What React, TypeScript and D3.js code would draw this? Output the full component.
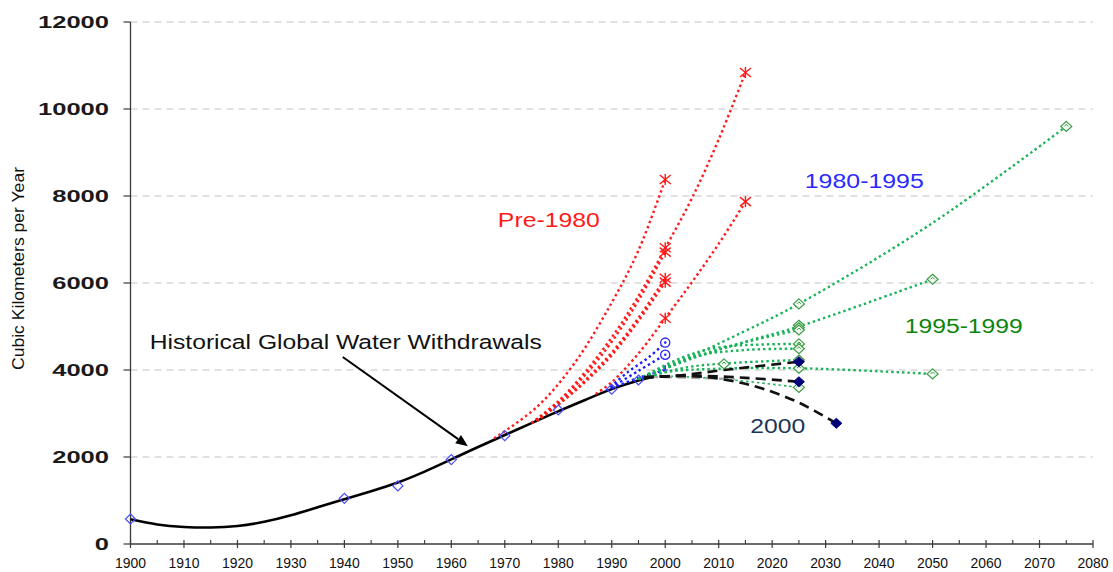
import React from 'react';
import * as d3 from 'd3';

const W = 1113;
const H = 572;

// axis ticks
const xTickYears = d3.range(1900, 2081, 10);
const xMinorYears = d3.range(1905, 2080, 10);
const yTickValues = [0, 2000, 4000, 6000, 8000, 10000, 12000];

// historical fitted curve
const histYears = [1900, 1905, 1910, 1915, 1920, 1925, 1930, 1935, 1940, 1945, 1950, 1955, 1960, 1965, 1970, 1975, 1980, 1985, 1990, 1995, 1998];
const histValues = [568, 450, 392, 380, 415, 510, 660, 845, 1030, 1215, 1415, 1665, 1945, 2230, 2505, 2780, 3050, 3310, 3560, 3760, 3850];

// historical observations
const obsYears = [1900, 1940, 1950, 1960, 1970, 1980, 1990, 1995];
const obsValues = [575, 1050, 1335, 1940, 2490, 3080, 3560, 3770];

type P = [number, number];

// Pre-1980 projections
const pre1980Lines: P[][] = [
  [[1968, 2430], [1976, 3150], [1983, 4150], [1990, 5550], [1995, 6750], [2000, 8380]],
  [[1975, 2780], [1980, 3280], [1985, 3950], [1990, 4750], [1995, 5700], [2000, 6800], [2005, 7950], [2010, 9300], [2015, 10840]],
  [[1975, 2780], [1980, 3260], [1985, 3880], [1990, 4650], [1995, 5600], [2000, 6710]],
  [[1976, 2830], [1980, 3220], [1985, 3760], [1990, 4400], [1995, 5200], [2000, 6110]],
  [[1976, 2830], [1980, 3200], [1985, 3720], [1990, 4340], [1995, 5130], [2000, 6020]],
  [[1987, 3450], [1990, 3720], [1995, 4380], [2000, 5190], [2005, 6020], [2010, 6900], [2015, 7870]],
];
const pre1980Marks: P[] = [
  [2000, 8380], [2000, 6810], [2000, 6710], [2000, 6110], [2000, 6020], [2000, 5190], [2015, 10840], [2015, 7870],
];

// 1980-1995 projections
const lines1980s: P[][] = [
  [[1989, 3530], [1993, 3950], [1997, 4300], [2000, 4630]],
  [[1989, 3530], [1995, 3980], [2000, 4350]],
  [[1990, 3580], [1995, 3820], [2000, 4000]],
];
const marks1980s: P[] = [[2000, 4630], [2000, 4350]];
const smallMarks1980s: P[] = [[2000, 4000]];

// 1995-1999 projections
const lines1995s: P[][] = [
  [[1995, 3790], [2005, 4320], [2015, 4900], [2025, 5520], [2050, 7380], [2075, 9600]],
  [[1995, 3790], [2005, 4260], [2015, 4650], [2025, 5000], [2050, 6085]],
  [[1995, 3790], [2005, 4280], [2015, 4640], [2025, 4920]],
  [[1995, 3790], [2003, 4280], [2010, 4520], [2025, 4600]],
  [[1995, 3790], [2005, 4300], [2015, 4460], [2025, 4490]],
  [[1995, 3790], [2004, 4060], [2011, 4150], [2025, 4230]],
  [[1995, 3790], [2000, 3950], [2010, 4030], [2025, 4040], [2050, 3910]],
  [[1998, 3870], [2010, 3800], [2025, 3600]],
];
const marks1995s: P[] = [
  [2025, 5520], [2075, 9600], [2025, 5030], [2025, 4970], [2025, 4920], [2050, 6085],
  [2025, 4600], [2025, 4490], [2025, 4230], [2011, 4140], [2025, 4040], [2050, 3910], [2025, 3600],
];

// 2000 projections
const lines2000: P[][] = [
  [[1996, 3830], [2003, 3880], [2011, 4000], [2025, 4190]],
  [[1996, 3830], [2005, 3870], [2015, 3820], [2025, 3730]],
  [[1996, 3830], [2005, 3860], [2012, 3760], [2018, 3580], [2025, 3250], [2032, 2775]],
];
const grayLine2000: P[] = [[1997, 3840], [2005, 3820], [2013, 3790]];
const marks2000: P[] = [[2025, 4190], [2025, 3730], [2032, 2775]];

// annotations (data units)
const arrowFrom: P = [1939.7, 4300];
const arrowTo: P = [1963.1, 2250];
const labelPre1980: P = [1968.7, 7294];
const label1980s: P = [2026.1, 8177];
const label1995s: P = [2044.8, 4844];
const label2000: P = [2015.9, 2552];
const labelHist: P = [1903.6, 4476];

const FONT = "'Liberation Sans', Arial, sans-serif";

export default function App() {
  const x = d3.scaleLinear().domain([1900, 2080]).range([130.5, 1093]);
  const y = d3.scaleLinear().domain([0, 12000]).range([544, 22]);
  const line = d3
    .line<P>()
    .x((d) => x(d[0]))
    .y((d) => y(d[1]))
    .curve(d3.curveCatmullRom.alpha(0.5));
  const histLine = d3
    .line<P>()
    .x((d) => x(d[0]))
    .y((d) => y(d[1]))
    .curve(d3.curveNatural);

  const histPts: P[] = histYears.map((yr, i) => [yr, histValues[i]]);

  const diamond = (w: number, h: number) => `M0,${-h}L${w},0L0,${h}L${-w},0Z`;

  const ax0 = x(1900);
  const ay0 = y(0);

  // arrow geometry
  const ax1 = x(arrowFrom[0]), ay1 = y(arrowFrom[1]);
  const ax2 = x(arrowTo[0]), ay2 = y(arrowTo[1]);
  const ang = Math.atan2(ay2 - ay1, ax2 - ax1);
  const ah = 12, aw = 5;
  const bx = ax2 - ah * Math.cos(ang), by = ay2 - ah * Math.sin(ang);
  const arrowHead = `M${ax2},${ay2}L${bx + aw * Math.sin(ang)},${by - aw * Math.cos(ang)}L${bx - aw * Math.sin(ang)},${by + aw * Math.cos(ang)}Z`;

  const dot = '2.4 3';

  return (
    <svg width={W} height={H} style={{ position: 'absolute', left: 0, top: 0, background: '#fff' }} fontFamily={FONT}>
      <rect x={0} y={0} width={W} height={H} fill="#fff" />
      {/* gridlines */}
      {yTickValues.filter((v) => v > 0).map((v) => (
        <line key={'g' + v} x1={ax0} x2={x(2080)} y1={y(v)} y2={y(v)} stroke="#c4c4c4" strokeWidth={1} strokeDasharray="7 5" />
      ))}

      {/* axes */}
      <line x1={ax0} x2={ax0} y1={y(12000)} y2={ay0} stroke="#3a3a3a" strokeWidth={1.3} />
      <line x1={ax0} x2={x(2080)} y1={ay0} y2={ay0} stroke="#3a3a3a" strokeWidth={1.3} />
      {yTickValues.map((v) => (
        <g key={'yt' + v}>
          <line x1={ax0 - 7} x2={ax0} y1={y(v)} y2={y(v)} stroke="#3a3a3a" strokeWidth={1.2} />
          <text
            x={109}
            y={y(v) + 6}
            textAnchor="end"
            fontSize={17}
            fontWeight="bold"
            fill="#1a1a1a"
            textLength={String(v).length * 14.2}
            lengthAdjust="spacingAndGlyphs"
          >
            {v}
          </text>
        </g>
      ))}
      {xTickYears.map((yr) => (
        <g key={'xt' + yr}>
          <line x1={x(yr)} x2={x(yr)} y1={ay0 - 4} y2={ay0 + 4} stroke="#3a3a3a" strokeWidth={1.2} />
          <text x={x(yr)} y={568} textAnchor="middle" fontSize={14.5} fill="#111" textLength={31} lengthAdjust="spacingAndGlyphs">
            {yr}
          </text>
        </g>
      ))}
      {xMinorYears.map((yr) => (
        <line key={'xm' + yr} x1={x(yr)} x2={x(yr)} y1={ay0 - 4} y2={ay0} stroke="#3a3a3a" strokeWidth={1.1} />
      ))}

      <text
        transform={`translate(24,268.5) rotate(-90)`}
        textAnchor="middle"
        fontSize={17}
        fill="#111"
        textLength={203}
        lengthAdjust="spacingAndGlyphs"
      >
        Cubic Kilometers per Year
      </text>

      {/* historical curve */}
      <path d={histLine(histPts) || ''} fill="none" stroke="#000" strokeWidth={2.6} />

      {/* pre-1980 */}
      {pre1980Lines.map((l, i) => (
        <path key={'r' + i} d={line(l) || ''} fill="none" stroke="#ff1a1a" strokeWidth={2.4} strokeDasharray={dot} />
      ))}

      {/* 1980-1995 */}
      {lines1980s.map((l, i) => (
        <path key={'b' + i} d={line(l) || ''} fill="none" stroke="#1a1aff" strokeWidth={2.4} strokeDasharray={dot} />
      ))}

      {/* 1995-1999 */}
      {lines1995s.map((l, i) => (
        <path
          key={'gr' + i}
          d={line(l) || ''}
          fill="none"
          stroke="#19b35a"
          strokeWidth={i === 7 ? 1.6 : 2.4}
          strokeDasharray={dot}
        />
      ))}

      {/* 2000 */}
      <path d={line(grayLine2000) || ''} fill="none" stroke="#a8a8a8" strokeWidth={2.2} strokeDasharray="9 5" />
      {lines2000.map((l, i) => (
        <path key={'k' + i} d={line(l) || ''} fill="none" stroke="#111" strokeWidth={2.6} strokeDasharray="10 6" />
      ))}

      {/* markers */}
      {obsYears.map((yr, i) => (
        <path
          key={'o' + yr}
          transform={`translate(${x(yr)},${y(obsValues[i])})`}
          d={diamond(5, 5)}
          fill="none"
          stroke="#4a4aff"
          strokeWidth={1.2}
        />
      ))}
      {pre1980Marks.map((m, i) => (
        <g key={'rm' + i} transform={`translate(${x(m[0])},${y(m[1])})`} stroke="#ff1a1a" strokeWidth={1.4}>
          <line x1={-5.5} y1={-4.5} x2={5.5} y2={4.5} />
          <line x1={-5.5} y1={4.5} x2={5.5} y2={-4.5} />
          <line x1={0} y1={-5.5} x2={0} y2={5.5} />
        </g>
      ))}
      {marks1980s.map((m, i) => (
        <g key={'bm' + i} transform={`translate(${x(m[0])},${y(m[1])})`}>
          <circle r={4.6} fill="#fff" stroke="#2a2aff" strokeWidth={1.3} />
          <circle r={1.3} fill="#2a2aff" />
        </g>
      ))}
      {smallMarks1980s.map((m, i) => (
        <path key={'bs' + i} transform={`translate(${x(m[0])},${y(m[1])})`} d="M-3,0L3,0M0,0L0,-5" stroke="#2a2aff" strokeWidth={1.2} />
      ))}
      {marks1995s.map((m, i) => (
        <g key={'gm' + i} transform={`translate(${x(m[0])},${y(m[1])})`}>
          <path d={diamond(5.5, 5)} fill="#f4fbf4" stroke="#3c9c46" strokeWidth={1.2} />
          <path d="M-2,0L0,-2L2,0" fill="none" stroke="#3c9c46" strokeWidth={1} />
        </g>
      ))}
      {marks2000.map((m, i) => (
        <path key={'km' + i} transform={`translate(${x(m[0])},${y(m[1])})`} d={diamond(5.5, 5)} fill="#00007a" stroke="#00007a" strokeWidth={1} />
      ))}

      {/* annotation arrow */}
      <line x1={ax1} y1={ay1} x2={bx} y2={by} stroke="#000" strokeWidth={2} />
      <path d={arrowHead} fill="#000" />

      {/* labels */}
      <text x={x(labelHist[0])} y={y(labelHist[1])} fontSize={20.5} fill="#111" textLength={392} lengthAdjust="spacingAndGlyphs">
        Historical Global Water Withdrawals
      </text>
      <text x={x(labelPre1980[0])} y={y(labelPre1980[1])} fontSize={20.5} fill="#ff1a1a" textLength={102} lengthAdjust="spacingAndGlyphs">
        Pre-1980
      </text>
      <text x={x(label1980s[0])} y={y(label1980s[1])} fontSize={20.5} fill="#2a2aff" textLength={119} lengthAdjust="spacingAndGlyphs">
        1980-1995
      </text>
      <text x={x(label1995s[0])} y={y(label1995s[1])} fontSize={20.5} fill="#0b850b" textLength={118} lengthAdjust="spacingAndGlyphs">
        1995-1999
      </text>
      <text x={x(label2000[0])} y={y(label2000[1])} fontSize={20.5} fill="#1c3556" textLength={55} lengthAdjust="spacingAndGlyphs">
        2000
      </text>
    </svg>
  );
}
